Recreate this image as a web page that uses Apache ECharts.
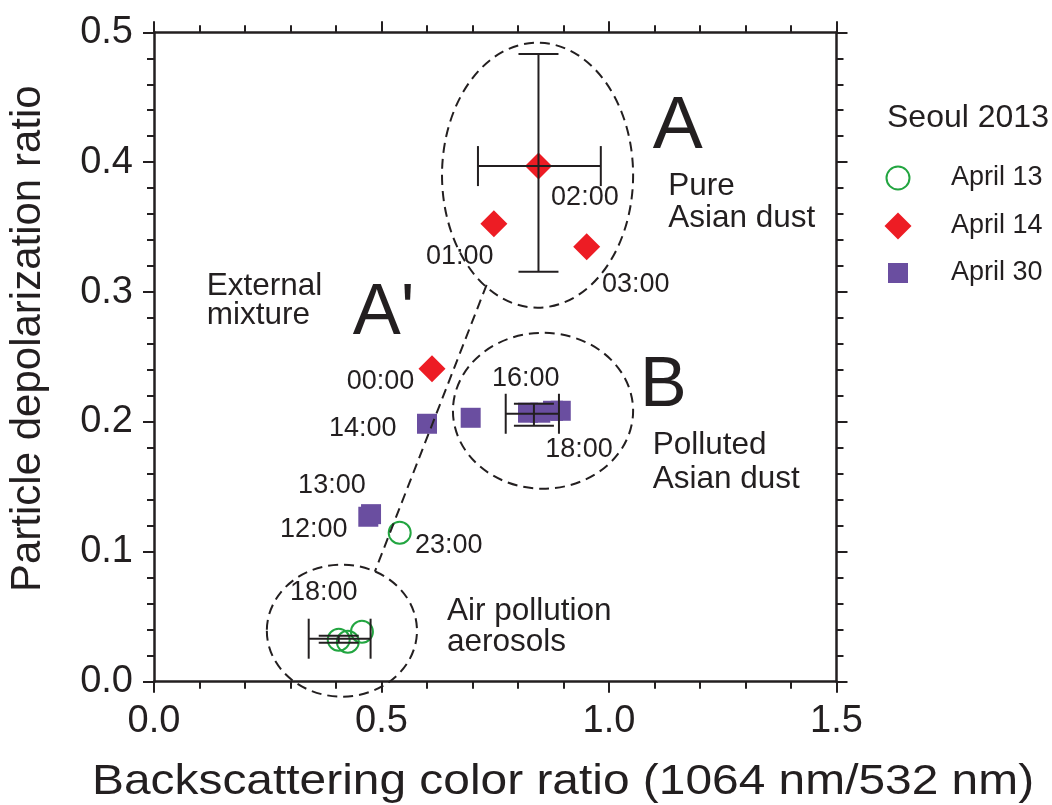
<!DOCTYPE html>
<html>
<head>
<meta charset="utf-8">
<script src="https://cdn.jsdelivr.net/npm/echarts@6/dist/echarts.min.js"></script>
<style>
html,body{margin:0;padding:0;background:#fff;}
#chart{width:1052px;height:805px;}
</style>
</head>
<body>
<div id="chart"></div>
<script>
// ---------------- data ----------------
const seriesNames = ['April 13', 'April 14', 'April 30'];
const april13 = [[0.406, 0.0323], [0.426, 0.0308], [0.457, 0.0385], [0.540, 0.1147]];
const april14 = [[0.611, 0.241], [0.747, 0.3526], [0.845, 0.397], [0.951, 0.3349]];
const april30 = [[0.471, 0.127], [0.477, 0.129], [0.600, 0.1986], [0.696, 0.2032],
                 [0.822, 0.2071], [0.849, 0.2071], [0.877, 0.2086], [0.894, 0.2086]];
// [x, y, xLow, xHigh, yLow, yHigh]
const errorBars = [[0.845, 0.397, 0.712, 0.982, 0.3157, 0.4832],
                   [0.835, 0.2063, 0.773, 0.890, 0.197, 0.214],
                   [0.406, 0.0331, 0.340, 0.476, 0.0300, 0.0354]];
// [centerX, centerY, radiusX, radiusY] in data units
const ellipses = [[0.843, 0.390, 0.210, 0.102],
                  [0.855, 0.2086, 0.198, 0.060],
                  [0.413, 0.0393, 0.165, 0.0508]];
const mixingLine = [[0.731, 0.3056], [0.4853, 0.0847]];
const timeLabels = ['02:00', '01:00', '03:00', '00:00', '14:00', '13:00', '12:00', '23:00', '18:00', '16:00', '18:00'];
const timeLabelPos = [[0.947, 0.3726], [0.672, 0.3272], [1.059, 0.3056], [0.498, 0.2310], [0.459, 0.1948],
                      [0.391, 0.1509], [0.351, 0.1170], [0.648, 0.1047], [0.373, 0.0685], [0.817, 0.2333], [0.934, 0.1786]];
const regionLabels = ['Pure', 'Asian dust', 'External', 'mixture', 'Polluted', 'Asian dust', 'Air pollution', 'aerosols'];
const regionLabelPos = [[1.130, 0.3811], [1.130, 0.3564], [0.116, 0.3048], [0.116, 0.2818],
                        [1.096, 0.1817], [1.096, 0.1555], [0.644, 0.0539], [0.644, 0.0300]];
const groupLetters = ['A', "A'", 'B'];
const groupLetterPos = [[1.096, 0.4265], [0.437, 0.2833], [1.068, 0.2271]];
const groupLetterSize = [75, 72, 70];
const xTickLabels = ['0.0', '0.5', '1.0', '1.5'];
const yTickLabels = ['0.0', '0.1', '0.2', '0.3', '0.4', '0.5'];
const xTitle = 'Backscattering color ratio (1064 nm/532 nm)';
const yTitle = 'Particle depolarization ratio';
const legendTitle = 'Seoul 2013';

// ---------------- style ----------------
const INK = '#231f20';
const FONT = 'Liberation Sans, Arial, Helvetica, sans-serif';
const GREEN = '#22a540';
const RED = '#ed1c24';
const PURPLE = '#6a4ea0';

const chart = echarts.init(document.getElementById('chart'), null, {renderer: 'canvas'});

function axisCommon(extra) {
  return Object.assign({
    splitLine: {show: false},
    axisLine: {show: true, onZero: false, lineStyle: {color: INK, width: 2.5}},
    axisTick: {show: true, inside: false, length: 11, lineStyle: {color: INK, width: 2}},
    minorTick: {show: true, splitNumber: 5, length: 7, lineStyle: {color: INK, width: 2}},
  }, extra);
}

// legend icons: a 27x27 box (corner move-tos) with the symbol drawn inside at its own size
const legendIcons = [
  'path://M0,0M27,27M25,13.5A11.5,11.5,0,1,1,2,13.5A11.5,11.5,0,1,1,25,13.5Z',
  'path://M13.5,0L27,13.5L13.5,27L0,13.5Z',
  'path://M0,0M27,27M3.5,3.5L23.5,3.5L23.5,23.5L3.5,23.5Z'
];

const option = {
  animation: false,
  backgroundColor: '#ffffff',
  grid: {left: 154, right: 215.5, top: 32.3, bottom: 123.3, containLabel: false},
  xAxis: [
    axisCommon({
      type: 'value', position: 'bottom', min: 0, max: 1.5, interval: 0.5,
      axisLabel: {show: true, margin: 21, fontSize: 38, fontFamily: FONT, color: INK,
        formatter: v => xTickLabels[Math.round(v / 0.5)]}
    }),
    axisCommon({
      type: 'value', position: 'top', min: 0, max: 1.5, interval: 0.5,
      axisLabel: {show: false}
    })
  ],
  yAxis: [
    axisCommon({
      type: 'value', position: 'left', min: 0, max: 0.5, interval: 0.1,
      axisLabel: {show: true, margin: 21, fontSize: 38, fontFamily: FONT, color: INK,
        formatter: v => yTickLabels[Math.round(v / 0.1)]}
    }),
    axisCommon({
      type: 'value', position: 'right', min: 0, max: 0.5, interval: 0.1,
      axisLabel: {show: false}
    })
  ],
  legend: {
    orient: 'vertical', left: 883.5, top: 163.5, padding: 0,
    itemWidth: 27, itemHeight: 27, itemGap: 20, symbolKeepAspect: true,
    data: seriesNames.map((n, i) => ({name: n, icon: legendIcons[i]})),
    textStyle: {fontSize: 27, fontFamily: FONT, color: INK, lineHeight: 27, padding: [0, 0, 0, 34.5]}
  },
  graphic: [
    {type: 'text', left: 887, top: 102, style: {text: legendTitle, font: '32px ' + FONT, fill: INK}},
    {type: 'text', x: 28, y: 592, rotation: Math.PI / 2,
      style: {text: yTitle, font: '42px ' + FONT, fill: INK, align: 'left', verticalAlign: 'middle'}},
    {type: 'text', x: 92, y: 782, scaleX: 1.14, scaleY: 1,
      style: {text: xTitle, font: '42px ' + FONT, fill: INK, align: 'left', verticalAlign: 'middle'}}
  ],
  series: [
    {
      name: seriesNames[0], type: 'scatter', data: april13, symbol: 'circle', symbolSize: 22,
      itemStyle: {color: 'rgba(255,255,255,0)', borderColor: GREEN, borderWidth: 2, opacity: 1}, z: 3
    },
    {
      name: seriesNames[1], type: 'scatter', data: april14, symbol: 'diamond', symbolSize: 27,
      itemStyle: {color: RED, opacity: 1}, z: 3
    },
    {
      name: seriesNames[2], type: 'scatter', data: april30, symbol: 'rect', symbolSize: 20,
      itemStyle: {color: PURPLE, opacity: 1}, z: 3
    },
    {
      name: 'errorBars', type: 'custom', data: errorBars, z: 5, silent: true,
      encode: {x: [0, 2, 3], y: [1, 4, 5]},
      renderItem: function (params, api) {
        const c = api.coord([api.value(0), api.value(1)]);
        const l = api.coord([api.value(2), api.value(1)]);
        const r = api.coord([api.value(3), api.value(1)]);
        const b = api.coord([api.value(0), api.value(4)]);
        const t = api.coord([api.value(0), api.value(5)]);
        const cap = 20;
        const st = {stroke: INK, lineWidth: 2};
        return {type: 'group', children: [
          {type: 'line', shape: {x1: l[0], y1: c[1], x2: r[0], y2: c[1]}, style: st},
          {type: 'line', shape: {x1: l[0], y1: c[1] - cap, x2: l[0], y2: c[1] + cap}, style: st},
          {type: 'line', shape: {x1: r[0], y1: c[1] - cap, x2: r[0], y2: c[1] + cap}, style: st},
          {type: 'line', shape: {x1: c[0], y1: b[1], x2: c[0], y2: t[1]}, style: st},
          {type: 'line', shape: {x1: c[0] - cap, y1: b[1], x2: c[0] + cap, y2: b[1]}, style: st},
          {type: 'line', shape: {x1: c[0] - cap, y1: t[1], x2: c[0] + cap, y2: t[1]}, style: st}
        ]};
      }
    },
    {
      name: 'ellipses', type: 'custom', data: ellipses, z: 4, silent: true,
      encode: {x: 0, y: 1},
      renderItem: function (params, api) {
        const c = api.coord([api.value(0), api.value(1)]);
        const s = api.size([api.value(2), api.value(3)]);
        const rx = s[0], ry = s[1];
        const d = 'M ' + (c[0] - rx) + ' ' + c[1] +
          ' A ' + rx + ' ' + ry + ' 0 1 0 ' + (c[0] + rx) + ' ' + c[1] +
          ' A ' + rx + ' ' + ry + ' 0 1 0 ' + (c[0] - rx) + ' ' + c[1] + ' Z';
        return {type: 'path', shape: {pathData: d},
          style: {fill: null, stroke: INK, lineWidth: 2, lineDash: [10, 6]}};
      }
    },
    {
      name: 'mixingLine', type: 'line', data: mixingLine, symbol: 'none', z: 4, silent: true,
      lineStyle: {color: INK, width: 2, type: [10, 6]}
    },
    {
      name: 'timeLabels', type: 'custom', data: timeLabelPos, z: 6, silent: true,
      encode: {x: 0, y: 1},
      renderItem: function (params, api) {
        const p = api.coord([api.value(0), api.value(1)]);
        return {type: 'text', x: p[0], y: p[1],
          style: {text: timeLabels[params.dataIndex], font: '27px ' + FONT, fill: INK,
            align: 'center', verticalAlign: 'middle'}};
      }
    },
    {
      name: 'regionLabels', type: 'custom', data: regionLabelPos, z: 6, silent: true,
      encode: {x: 0, y: 1},
      renderItem: function (params, api) {
        const p = api.coord([api.value(0), api.value(1)]);
        return {type: 'text', x: p[0], y: p[1],
          style: {text: regionLabels[params.dataIndex], font: '31.5px ' + FONT, fill: INK,
            align: 'left', verticalAlign: 'middle'}};
      }
    },
    {
      name: 'groupLetters', type: 'custom', data: groupLetterPos, z: 6, silent: true,
      encode: {x: 0, y: 1},
      renderItem: function (params, api) {
        const p = api.coord([api.value(0), api.value(1)]);
        return {type: 'text', x: p[0], y: p[1],
          style: {text: groupLetters[params.dataIndex], font: groupLetterSize[params.dataIndex] + 'px ' + FONT,
            fill: INK, align: 'left', verticalAlign: 'middle'}};
      }
    }
  ]
};
chart.setOption(option);
</script>
</body>
</html>
